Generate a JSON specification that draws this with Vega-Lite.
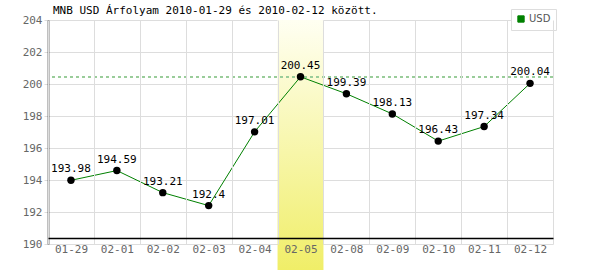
{
  "$schema": "https://vega.github.io/schema/vega-lite/v6.json",
  "width": 505,
  "height": 224,
  "autosize": "none",
  "padding": {"left": 48, "top": 20, "right": 47, "bottom": 26},
  "background": "white",
  "config": {"view": {"stroke": null}},
  "title": {
    "text": "MNB USD Árfolyam 2010-01-29 és 2010-02-12 között.",
    "anchor": "start",
    "frame": "group",
    "dx": 5,
    "offset": -7,
    "font": "DejaVu Sans Mono",
    "fontSize": 11,
    "fontWeight": "normal",
    "color": "#000000"
  },
  "data": {
    "values": [
      {"date": "01-29", "rate": 193.98, "label": "193.98"},
      {"date": "02-01", "rate": 194.59, "label": "194.59"},
      {"date": "02-02", "rate": 193.21, "label": "193.21"},
      {"date": "02-03", "rate": 192.4, "label": "192.4"},
      {"date": "02-04", "rate": 197.01, "label": "197.01"},
      {"date": "02-05", "rate": 200.45, "label": "200.45"},
      {"date": "02-08", "rate": 199.39, "label": "199.39"},
      {"date": "02-09", "rate": 198.13, "label": "198.13"},
      {"date": "02-10", "rate": 196.43, "label": "196.43"},
      {"date": "02-11", "rate": 197.34, "label": "197.34"},
      {"date": "02-12", "rate": 200.04, "label": "200.04"}
    ]
  },
  "encoding": {
    "x": {
      "field": "date",
      "type": "ordinal",
      "sort": null,
      "scale": {
        "domain": ["01-29", "02-01", "02-02", "02-03", "02-04", "02-05", "02-08", "02-09", "02-10", "02-11", "02-12"],
        "paddingInner": 0,
        "paddingOuter": 0
      },
      "axis": {
        "title": null,
        "labelAngle": 0,
        "labelFont": "DejaVu Sans Mono",
        "labelFontSize": 11,
        "labelColor": "#666666",
        "labelPadding": 5,
        "ticks": false,
        "tickBand": "extent",
        "grid": true,
        "gridColor": "#dddddd",
        "domainColor": "#000000",
        "domainWidth": 1.5,
        "offset": -6,
        "zindex": 1
      }
    },
    "y": {
      "field": "rate",
      "type": "quantitative",
      "scale": {"domain": [190, 204], "zero": false, "nice": false},
      "axis": {
        "title": null,
        "values": [190, 192, 194, 196, 198, 200, 202, 204],
        "labelOverlap": false,
        "labelFont": "DejaVu Sans Mono",
        "labelFontSize": 11,
        "labelColor": "#666666",
        "tickColor": "#dddddd",
        "tickSize": 4,
        "labelPadding": 2,
        "gridColor": "#dddddd",
        "domainColor": "#000000",
        "domainWidth": 1.5,
        "zindex": 0
      }
    }
  },
  "layer": [
    {
      "transform": [{"filter": "datum.date === '02-05'"}],
      "mark": {
        "type": "rect",
        "clip": false,
        "fill": {
          "gradient": "linear",
          "x1": 0, "y1": 0, "x2": 0, "y2": 1,
          "stops": [
            {"offset": 0, "color": "#fffff2"},
            {"offset": 1, "color": "#f0ee68"}
          ]
        }
      },
      "encoding": {
        "y": {
          "datum": 204,
          "type": "quantitative",
          "axis": {
            "title": null,
            "values": [190, 192, 194, 196, 198, 200, 202, 204],
            "labelOverlap": false,
            "labelFont": "DejaVu Sans Mono",
            "labelFontSize": 11,
            "labelColor": "#666666",
            "tickColor": "#dddddd",
            "tickSize": 4,
            "labelPadding": 2,
            "gridColor": "#dddddd",
            "domainColor": "#000000",
            "domainWidth": 1.5,
            "zindex": 0
          }
        },
        "y2": {"datum": 188.375}
      }
    },
    {
      "mark": {"type": "rule", "strokeDash": [3, 3], "color": "#99cc99", "strokeWidth": 1},
      "encoding": {
        "x": null,
        "y": {"datum": 200.45, "type": "quantitative"}
      }
    },
    {
      "mark": {"type": "line", "strokeWidth": 1},
      "encoding": {
        "color": {
          "datum": "USD",
          "type": "nominal",
          "scale": {"domain": ["USD"], "range": ["#008000"]},
          "legend": {
            "title": null,
            "orient": "none",
            "legendX": 463,
            "legendY": -11,
            "symbolType": "square",
            "symbolSize": 40,
            "labelFont": "DejaVu Sans",
            "labelFontSize": 10,
            "labelColor": "#555555",
            "strokeColor": "#dddddd",
            "fillColor": "#ffffff",
            "padding": 5,
            "labelOffset": 3,
            "encode": {
              "symbols": {"update": {"fill": {"value": "#008000"}, "stroke": {"value": "#333333"}, "strokeWidth": {"value": 1}}}
            }
          }
        }
      }
    },
    {
      "mark": {"type": "circle", "size": 55, "color": "#000000", "opacity": 1}
    },
    {
      "mark": {"type": "text", "dy": -11, "font": "DejaVu Sans Mono", "fontSize": 11, "color": "#000000"},
      "encoding": {
        "text": {"field": "label"}
      }
    }
  ]
}
